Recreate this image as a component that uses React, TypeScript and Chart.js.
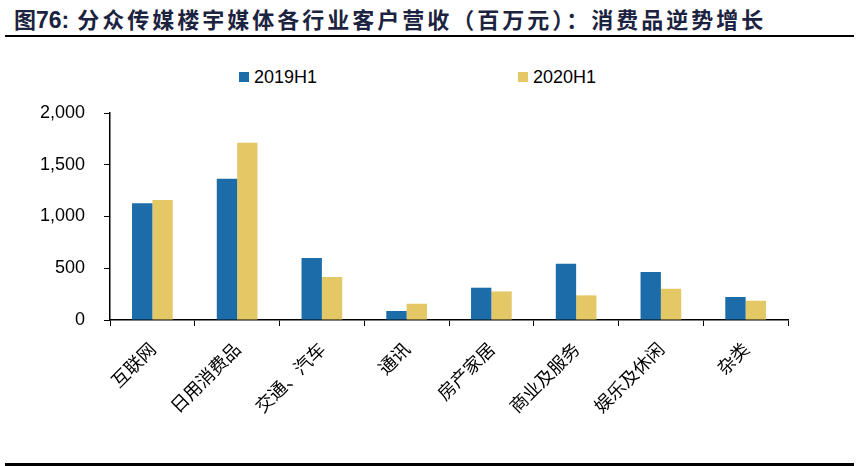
import React, { useEffect, useRef } from "react";
import { Chart, registerables } from "chart.js";

Chart.register(...registerables);

const categories = ["互联网", "日用消费品", "交通、汽车", "通讯", "房产家居", "商业及服务", "娱乐及休闲", "杂类"];
const series2019H1 = [1127, 1365, 599, 87, 312, 544, 464, 222];
const series2020H1 = [1159, 1713, 415, 157, 276, 238, 302, 186];
const seriesNames = ["2019H1", "2020H1"];
const yTicks = [0, 500, 1000, 1500, 2000];
const colors = ["#1B6CA8", "#E3C865"];

export default function App() {
  const ref = useRef<HTMLCanvasElement | null>(null);

  useEffect(() => {
    if (!ref.current) return;
    const chart = new Chart(ref.current, {
      type: "bar",
      data: {
        labels: categories,
        datasets: [
          { label: seriesNames[0], data: series2019H1, backgroundColor: colors[0], borderWidth: 0 },
          { label: seriesNames[1], data: series2020H1, backgroundColor: colors[1], borderWidth: 0 },
        ],
      },
      options: {
        animation: false,
        responsive: false,
        maintainAspectRatio: false,
        layout: { padding: { top: 73, right: 70, left: 0, bottom: 0 } },
        plugins: { legend: { display: false }, tooltip: { enabled: false } },
        datasets: { bar: { categoryPercentage: 0.48, barPercentage: 1 } },
        scales: {
          x: {
            afterFit: (s: any) => { s.height = 140; },
            grid: { offset: true, drawOnChartArea: false, drawTicks: true, tickLength: 6, color: "#000", lineWidth: 1 },
            border: { color: "#000", width: 1.5 },
            ticks: {
              minRotation: 45,
              maxRotation: 45,
              padding: 12,
              color: "#000",
              font: { family: "'Noto Sans CJK SC', sans-serif", size: 18 },
            },
          },
          y: {
            min: yTicks[0],
            max: yTicks[yTicks.length - 1],
            afterFit: (s: any) => { s.width = 110; },
            afterBuildTicks: (s: any) => { s.ticks = yTicks.map((v) => ({ value: v })); },
            grid: { drawOnChartArea: false, drawTicks: true, tickLength: 6, color: "#000", lineWidth: 1 },
            border: { color: "#000", width: 1.5 },
            ticks: {
              padding: 19,
              color: "#000",
              font: { family: "'Liberation Sans', Arial, sans-serif", size: 18 },
              callback: (v: any) => Number(v).toLocaleString("en-US"),
            },
          },
        },
      },
    });
    return () => chart.destroy();
  }, []);

  const titleColor = "#1c2340";
  return (
    <div style={{ position: "absolute", left: 0, top: 0, width: 858, height: 466, background: "#fff", overflow: "hidden" }}>
      <div
        style={{
          position: "absolute",
          left: 14,
          top: 3,
          whiteSpace: "nowrap",
          color: titleColor,
          fontWeight: 700,
          fontSize: 22,
          lineHeight: "30px",
          fontFamily: "'Noto Sans CJK SC', sans-serif",
          letterSpacing: 3,
        }}
      >
        <span style={{ letterSpacing: 0 }}>图</span>
        <span style={{ fontFamily: "'Liberation Sans', Arial, sans-serif", fontSize: 23, letterSpacing: 0 }}>76:</span>
        <span> 分众传媒楼宇媒体各行业客户营收（百万元）：消费品逆势增长</span>
      </div>
      <div style={{ position: "absolute", left: 5, top: 35, width: 849, height: 2, background: "#000" }} />
      <div style={{ position: "absolute", left: 5, top: 463, width: 849, height: 3, background: "#000" }} />
      {seriesNames.map((n, i) => (
        <div key={n} style={{ position: "absolute", left: i === 0 ? 239 : 518, top: 64, height: 26, display: "flex", alignItems: "center" }}>
          <div style={{ width: 10, height: 10, background: colors[i], marginRight: 5 }} />
          <span style={{ fontFamily: "'Liberation Sans', Arial, sans-serif", fontSize: 18, color: "#000" }}>{n}</span>
        </div>
      ))}
      <canvas ref={ref} width={858} height={420} style={{ position: "absolute", left: 0, top: 40, width: 858, height: 420 }} />
    </div>
  );
}
